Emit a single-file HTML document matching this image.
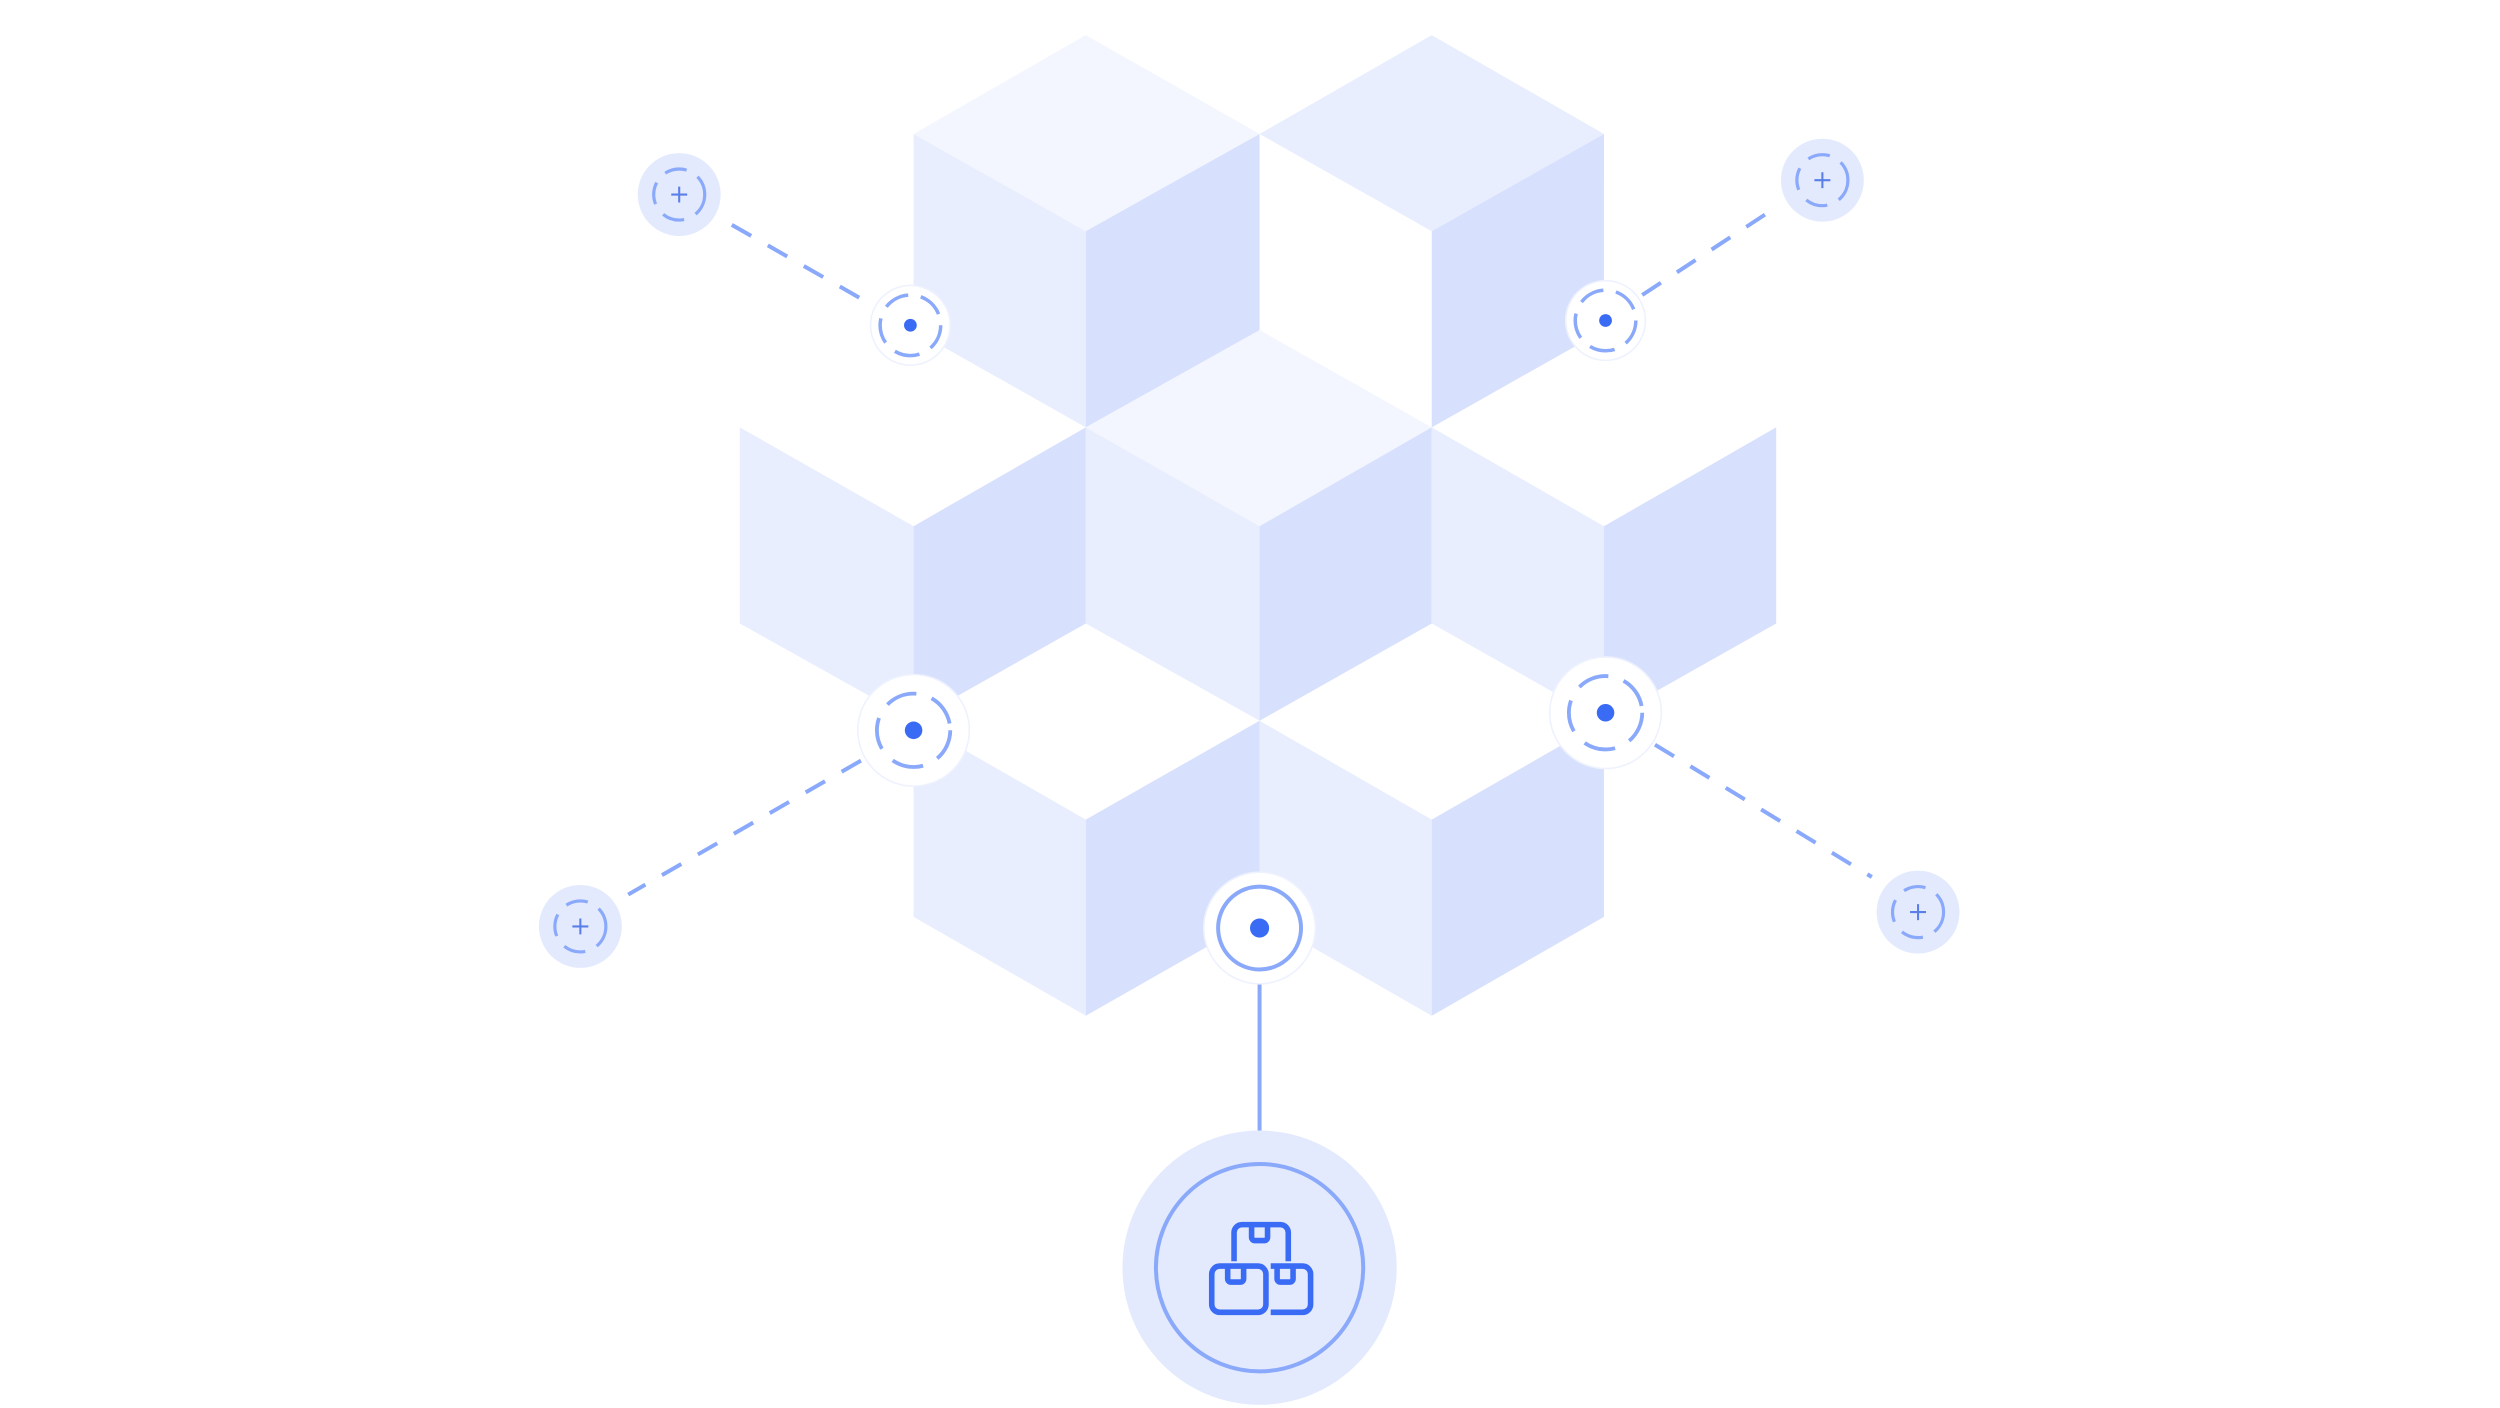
<!DOCTYPE html>
<html><head><meta charset="utf-8"><style>html,body{margin:0;padding:0;background:#fff}svg{display:block}</style></head>
<body>
<svg width="2500" height="1408" viewBox="0 0 1568 883" preserveAspectRatio="none" xmlns="http://www.w3.org/2000/svg">
<rect width="1568" height="883" fill="#fff"/>
<g stroke="none">
<polygon points="681,22 790,84 681,145 573,84" fill="#f3f6fe"/>
<polygon points="573,84 681,145 681,268 573,207" fill="#e8eefe"/>
<polygon points="681,145 790,84 790,207 681,268" fill="#d7e0fd"/>
<polygon points="898,22 1006,84 898,145 790,84" fill="#e8eefe"/>
<polygon points="898,145 1006,84 1006,207 898,268" fill="#d7e0fd"/>
<polygon points="790,207 898,268 790,330 681,268" fill="#f3f6fe"/>
<polygon points="681,268 790,330 790,452 681,391" fill="#e8eefe"/>
<polygon points="790,330 898,268 898,391 790,452" fill="#d7e0fd"/>
<polygon points="464,268 573,330 573,452 464,391" fill="#e8eefe"/>
<polygon points="573,330 681,268 681,391 573,452" fill="#d7e0fd"/>
<polygon points="898,268 1006,330 1006,452 898,391" fill="#e8eefe"/>
<polygon points="1006,330 1114,268 1114,391 1006,452" fill="#d7e0fd"/>
<polygon points="573,452 681,514 681,637 573,575" fill="#e8eefe"/>
<polygon points="681,514 790,452 790,575 681,637" fill="#d7e0fd"/>
<polygon points="790,452 898,514 898,637 790,575" fill="#e8eefe"/>
<polygon points="898,514 1006,452 1006,575 898,637" fill="#d7e0fd"/>
</g>
<g stroke="#8aa9fb" stroke-width="2.5" stroke-dasharray="14,12" fill="none">
<line x1="459" y1="141" x2="550" y2="193"/>
<line x1="1030" y1="185" x2="1114" y2="130"/>
<line x1="540" y1="477" x2="394" y2="561"/>
<line x1="1038" y1="467" x2="1174" y2="550"/>
</g>
<g>
<g transform="translate(426,122)"><circle r="26" fill="#e3eafd"/><circle r="16" fill="none" stroke="#8aa9fb" stroke-width="2" stroke-dasharray="14,8"/><path d="M-5,0H5M0,-5V5" stroke="#5a7fe8" stroke-width="1.3"/></g>
<g transform="translate(1143,113)"><circle r="26" fill="#e3eafd"/><circle r="16" fill="none" stroke="#8aa9fb" stroke-width="2" stroke-dasharray="14,8"/><path d="M-5,0H5M0,-5V5" stroke="#5a7fe8" stroke-width="1.3"/></g>
<g transform="translate(364,581)"><circle r="26" fill="#e3eafd"/><circle r="16" fill="none" stroke="#8aa9fb" stroke-width="2" stroke-dasharray="14,8"/><path d="M-5,0H5M0,-5V5" stroke="#5a7fe8" stroke-width="1.3"/></g>
<g transform="translate(1203,572)"><circle r="26" fill="#e3eafd"/><circle r="16" fill="none" stroke="#8aa9fb" stroke-width="2" stroke-dasharray="14,8"/><path d="M-5,0H5M0,-5V5" stroke="#5a7fe8" stroke-width="1.3"/></g>
</g>
<g transform="translate(571,204)"><circle r="25" fill="#fff" stroke="#eef2fe"/><circle r="19" fill="none" stroke="#8aa9fb" stroke-width="2.2" stroke-dasharray="16,8"/><circle r="4" fill="#3a6bf5"/></g>
<g transform="translate(1007,201)"><circle r="25" fill="#fff" stroke="#eef2fe"/><circle r="19" fill="none" stroke="#8aa9fb" stroke-width="2.2" stroke-dasharray="16,8"/><circle r="4" fill="#3a6bf5"/></g>
<g transform="translate(573,458)"><circle r="35" fill="#fff" stroke="#eef2fe"/><circle r="23" fill="none" stroke="#8aa9fb" stroke-width="2.4" stroke-dasharray="20,10"/><circle r="5.5" fill="#3a6bf5"/></g>
<g transform="translate(1007,447)"><circle r="35" fill="#fff" stroke="#eef2fe"/><circle r="23" fill="none" stroke="#8aa9fb" stroke-width="2.4" stroke-dasharray="20,10"/><circle r="5.5" fill="#3a6bf5"/></g>
<line x1="790" y1="616" x2="790" y2="710" stroke="#8aa9fb" stroke-width="2.5"/>
<g transform="translate(790,582)"><circle r="35" fill="#fff" stroke="#eef2fe"/><circle r="26" fill="none" stroke="#8aa9fb" stroke-width="2.5"/><circle r="6" fill="#3a6bf5"/></g>
<g transform="translate(790,795)"><circle r="86" fill="#e3eafd"/><circle r="65" fill="none" stroke="#8aa9fb" stroke-width="2.5"/></g>
<g fill="none" stroke="#3a6bf5" stroke-width="3.5" stroke-linejoin="round">
<path d="M774,791 V773 a5,5 0 0 1 5,-5 h24 a5,5 0 0 1 5,5 V791"/>
<path d="M785,768 v8 a2,2 0 0 0 2,2 h6 a2,2 0 0 0 2,-2 v-8"/>
<rect x="760" y="794" width="34" height="29" rx="5"/>
<path d="M770,794 v8 a2,2 0 0 0 2,2 h6 a2,2 0 0 0 2,-2 v-8"/>
<path d="M797,794 h20 a5,5 0 0 1 5,5 v19 a5,5 0 0 1 -5,5 h-20"/>
<path d="M801,794 v8 a2,2 0 0 0 2,2 h6 a2,2 0 0 0 2,-2 v-8"/>
</g>
</svg>
</body></html>
